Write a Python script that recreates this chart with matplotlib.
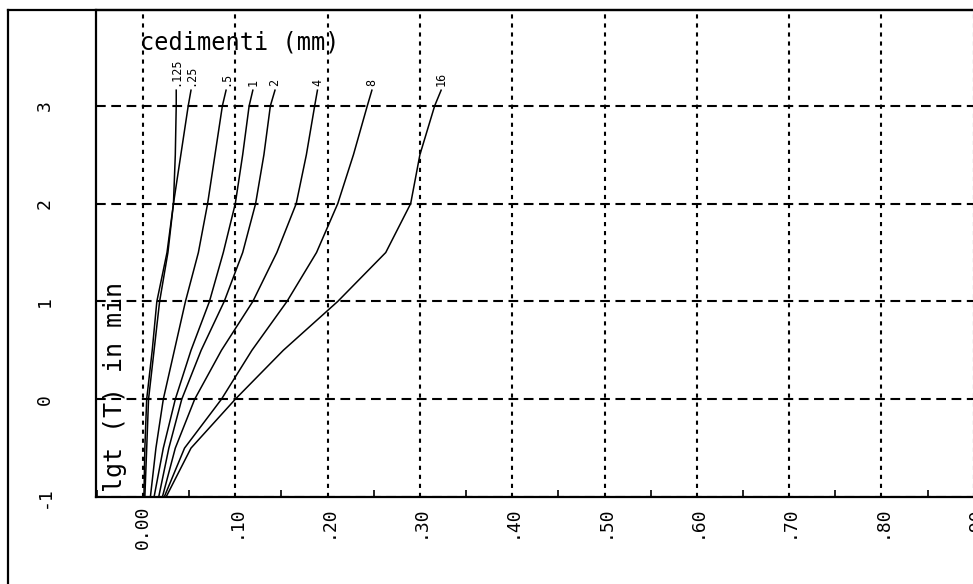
import matplotlib
matplotlib.use("Agg")
import matplotlib.pyplot as plt
from matplotlib.lines import Line2D
from matplotlib.ticker import MultipleLocator

plt.rcParams["font.family"] = ["DejaVu Sans Mono"]
plt.rcParams["lines.scale_dashes"] = False

# log10 of elapsed time (minutes) at which settlements were read
lg_t = [-1.0, -0.5, 0.0, 0.5, 1.0, 1.5, 2.0, 2.5, 3.0, 3.16]

# settlement (mm) for each load step
load_labels = [".125", ".25", ".5", "1", "2", "4", "8", "16"]
s_0125 = [0.001, 0.002, 0.004, 0.010, 0.015, 0.026, 0.033, 0.035, 0.036, 0.036]
s_025 = [0.002, 0.004, 0.006, 0.012, 0.018, 0.027, 0.033, 0.041, 0.049, 0.052]
s_05 = [0.008, 0.014, 0.022, 0.034, 0.046, 0.060, 0.070, 0.078, 0.086, 0.090]
s_1 = [0.012, 0.022, 0.035, 0.052, 0.072, 0.087, 0.100, 0.108, 0.115, 0.119]
s_2 = [0.017, 0.028, 0.042, 0.063, 0.088, 0.108, 0.122, 0.131, 0.138, 0.143]
s_4 = [0.021, 0.035, 0.056, 0.085, 0.119, 0.145, 0.166, 0.177, 0.186, 0.189]
s_8 = [0.023, 0.045, 0.085, 0.118, 0.156, 0.188, 0.211, 0.228, 0.243, 0.248]
s_16 = [0.025, 0.052, 0.100, 0.152, 0.211, 0.263, 0.290, 0.300, 0.316, 0.323]
series = [s_0125, s_025, s_05, s_1, s_2, s_4, s_8, s_16]

x_ticks = [0.0, 0.1, 0.2, 0.3, 0.4, 0.5, 0.6, 0.7, 0.8, 0.9]
x_tick_labels = ["0.00", ".10", ".20", ".30", ".40", ".50", ".60", ".70", ".80", ".90"]
y_ticks = [-1, 0, 1, 2, 3]
y_tick_labels = ["-1", "0", "1", "2", "3"]

W, H = 973, 584
fig = plt.figure(figsize=(W / 100, H / 100), dpi=100)

left_px, right_px, top_px, bottom_px = 96, 1000, 10, 497
ax = fig.add_axes([left_px / W, 1 - bottom_px / H,
                   (right_px - left_px) / W, (bottom_px - top_px) / H])
ax.set_xlim((left_px - 143) / 923, (right_px - 143) / 923)
ax.set_ylim(-1.0, 3.98)

for sp in ax.spines.values():
    sp.set_linewidth(1.6)
    sp.set_color("black")

# dashed grid
ax.set_xticks(x_ticks)
ax.set_yticks(y_ticks)
ax.xaxis.grid(True, which="major", color="black", lw=1.5, ls=(0, (3.0, 3.5)))
ax.yaxis.grid(True, which="major", color="black", lw=1.5, ls=(0, (7.0, 4.0)))
ax.set_axisbelow(True)

ax.xaxis.set_minor_locator(MultipleLocator(0.05))
ax.tick_params(axis="x", which="minor", direction="in", length=5, width=1.2)
ax.tick_params(axis="x", which="major", direction="in", length=0, pad=6)
ax.tick_params(axis="y", which="both", length=0, pad=37)

ax.set_xticklabels(x_tick_labels, rotation=90, ha="center", va="top", fontsize=13)
ax.set_yticklabels(y_tick_labels, rotation=90, ha="center", va="center", fontsize=13)

for vals, lab in zip(series, load_labels):
    ax.plot(vals, lg_t, color="black", lw=1.1, solid_joinstyle="round")
    ax.text(vals[-1], 3.2, lab, rotation=90, ha="center", va="bottom", fontsize=8.5)

ax.text(-0.003, 3.65, "cedimenti (mm)", ha="left", va="center", fontsize=17)
ax.text(-0.030, -0.95, "lgt (T) in min", rotation=90, ha="center", va="bottom", fontsize=18)

# outer page frame
fx = 8 / W
fy = 1 - top_px / H
fig.add_artist(Line2D([fx, fx], [0, fy], color="black", lw=1.6, transform=fig.transFigure))
fig.add_artist(Line2D([fx, 1], [fy, fy], color="black", lw=1.6, transform=fig.transFigure))

fig.savefig("out.png", dpi=100, facecolor="white")
